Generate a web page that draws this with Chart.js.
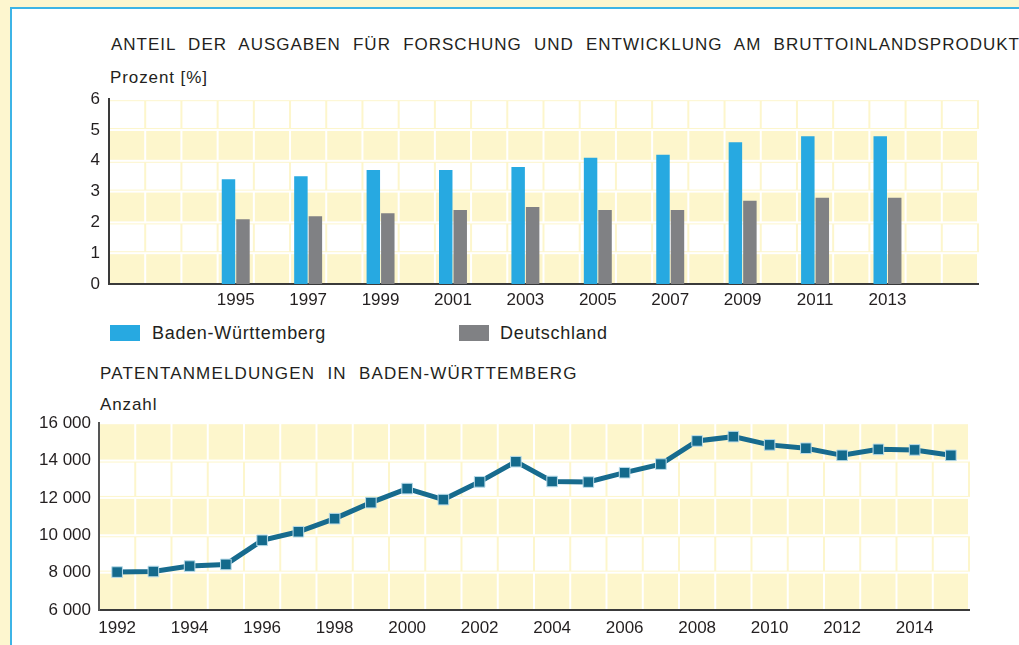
<!DOCTYPE html>
<html lang="de">
<head>
<meta charset="utf-8">
<title>Forschung und Entwicklung, Patentanmeldungen</title>
<script src="https://cdn.jsdelivr.net/npm/chart.js@4"></script>
<style>
  html, body { margin: 0; padding: 0; }
  body {
    width: 1019px; height: 645px; overflow: hidden; position: relative;
    background: #fdf6cf;
    font-family: "Liberation Sans", Arial, sans-serif;
    color: #231f20;
  }
  .panel {
    position: absolute; left: 10px; top: 7px; width: 1040px; height: 680px;
    background: #fff;
    border-left: 2px solid #3db4e6;
    border-top: 2px solid #3db4e6;
  }
  .txt { position: absolute; white-space: nowrap; font-size: 17px; line-height: 17px; letter-spacing: 0.9px; }
  .head { letter-spacing: 1px; word-spacing: 6.5px; }
  .head2 { letter-spacing: 1.15px; }
  .legend { font-size: 18px; line-height: 18px; letter-spacing: 0.7px; }
  .swatch { position: absolute; width: 30px; height: 16px; }
  canvas { position: absolute; left: 0; }
</style>
</head>
<body>
<div class="panel"></div>

<div class="txt head" style="left:111px; top:36px">ANTEIL DER AUSGABEN FÜR FORSCHUNG UND ENTWICKLUNG AM BRUTTOINLANDSPRODUKT</div>
<div class="txt" style="left:110px; top:69px">Prozent [%]</div>
<canvas id="rd-chart" width="1000" height="240" style="top:80px"></canvas>

<div class="swatch" style="left:110px; top:325px; background:#27a9e1"></div>
<div class="txt legend" style="left:152px; top:324px">Baden-Württemberg</div>
<div class="swatch" style="left:459px; top:325px; background:#808184"></div>
<div class="txt legend" style="left:500px; top:324px">Deutschland</div>

<div class="txt head head2" style="left:100px; top:365px">PATENTANMELDUNGEN IN BADEN-WÜRTTEMBERG</div>
<div class="txt" style="left:100px; top:396px">Anzahl</div>
<canvas id="patent-chart" width="1000" height="240" style="top:405px"></canvas>

<script>
// shared year axis, one column per year
const axisYears = [1992, 1993, 1994, 1995, 1996, 1997, 1998, 1999, 2000, 2001, 2002, 2003,
                   2004, 2005, 2006, 2007, 2008, 2009, 2010, 2011, 2012, 2013, 2014, 2015];

// R&D spending as share of GDP, %
const rdYears  = [1995, 1997, 1999, 2001, 2003, 2005, 2007, 2009, 2011, 2013];
const bwShare  = [3.4, 3.5, 3.7, 3.7, 3.8, 4.1, 4.2, 4.6, 4.8, 4.8];
const deShare  = [2.1, 2.2, 2.3, 2.4, 2.5, 2.4, 2.4, 2.7, 2.8, 2.8];

// patent applications in Baden-Württemberg, one per axis year
const patents = [8030, 8060, 8350, 8440, 9730, 10190, 10890, 11750, 12500, 11910, 12860, 13940,
                 12880, 12850, 13350, 13810, 15050, 15280, 14840, 14660, 14280, 14600, 14570, 14280];
const patentTicks = [1992, 1994, 1996, 1998, 2000, 2002, 2004, 2006, 2008, 2010, 2012, 2014];

const YELLOW = '#fdf6cc';
const INK = '#231f20';
const tickFont = {family: '"Liberation Sans", Arial, sans-serif', size: 17};

// checkered backdrop: yellow cells on even rows, white cells framed yellow on odd rows
const cellBackdrop = {
  id: 'cellBackdrop',
  beforeDraw(chart) {
    const {ctx, chartArea: a, scales: {x, y}} = chart;
    const cols = x.ticks.length;
    const colW = (a.right - a.left) / cols;
    const ticks = y.ticks.map(t => t.value);
    ctx.save();
    for (let j = 0; j < ticks.length - 1; j++) {
      const y0 = y.getPixelForValue(ticks[j + 1]);
      const y1 = y.getPixelForValue(ticks[j]);
      if (j % 2 === 0) {
        ctx.fillStyle = YELLOW;
        for (let i = 0; i < cols; i++) {
          const x0 = a.left + i * colW;
          ctx.fillRect(x0 + 1, y0 + 1, colW - 2, y1 - y0 - 2);
        }
      } else {
        ctx.fillStyle = YELLOW;
        ctx.fillRect(a.left - 1, y0 + 1, a.right - a.left + 2, y1 - y0 - 2);
        ctx.fillStyle = '#fff';
        for (let i = 0; i < cols; i++) {
          const x0 = a.left + i * colW;
          ctx.fillRect(x0 + 1, y0 + 2, colW - 2, y1 - y0 - 4);
        }
      }
    }
    ctx.restore();
  }
};

function fixedWidth(w) { return s => { s.width = w; }; }
function fixedHeight(h) { return s => { s.height = h; }; }

const thousands = v => {
  const s = String(v);
  return s.length > 3 ? s.slice(0, -3) + ' ' + s.slice(-3) : s;
};

// bars: values placed on their year within the full axis
const bwData = rdYears.map((yr, i) => ({x: String(yr), y: bwShare[i]}));
const deData = rdYears.map((yr, i) => ({x: String(yr), y: deShare[i]}));

new Chart(document.getElementById('rd-chart'), {
  type: 'bar',
  data: {
    labels: axisYears.map(String),
    datasets: [
      {label: 'Baden-Württemberg', data: bwData, backgroundColor: '#27a9e1',
       categoryPercentage: 0.8, barPercentage: 0.93},
      {label: 'Deutschland', data: deData, backgroundColor: '#808184',
       categoryPercentage: 0.8, barPercentage: 0.93},
    ]
  },
  options: {
    responsive: false,
    animation: false,
    layout: {padding: {left: 0, right: 22, top: 15, bottom: 0}},
    plugins: {legend: {display: false}, tooltip: {enabled: false}},
    scales: {
      x: {
        type: 'category',
        offset: true,
        grid: {display: false, drawTicks: false},
        border: {display: true, color: '#3a3a3a', width: 2},
        afterFit: fixedHeight(36),
        ticks: {
          autoSkip: false, maxRotation: 0, padding: 6, color: INK, font: tickFont,
          callback(v, i) { return rdYears.includes(axisYears[i]) ? String(axisYears[i]) : ''; }
        }
      },
      y: {
        min: 0, max: 6,
        grid: {display: false, drawTicks: false},
        border: {display: true, color: '#3a3a3a', width: 2},
        afterFit: fixedWidth(109),
        ticks: {stepSize: 1, padding: 9, color: INK, font: tickFont}
      }
    }
  },
  plugins: [cellBackdrop]
});

new Chart(document.getElementById('patent-chart'), {
  type: 'line',
  data: {
    labels: axisYears.map(String),
    datasets: [{
      label: 'Patentanmeldungen',
      data: patents,
      borderColor: '#176b8e',
      borderWidth: 5,
      tension: 0,
      pointStyle: 'rect',
      pointRadius: 7.5,
      pointBackgroundColor: '#146a8c',
      pointBorderColor: '#b9dcea',
      pointBorderWidth: 1
    }]
  },
  options: {
    responsive: false,
    animation: false,
    layout: {padding: {left: 0, right: 31, top: 18, bottom: 0}},
    plugins: {legend: {display: false}, tooltip: {enabled: false}},
    scales: {
      x: {
        type: 'category',
        offset: true,
        grid: {display: false, drawTicks: false},
        border: {display: true, color: '#3a3a3a', width: 2},
        afterFit: fixedHeight(35),
        ticks: {
          autoSkip: false, maxRotation: 0, padding: 8, color: INK, font: tickFont,
          callback(v, i) { return patentTicks.includes(axisYears[i]) ? String(axisYears[i]) : ''; }
        }
      },
      y: {
        min: 6000, max: 16000,
        grid: {display: false, drawTicks: false},
        border: {display: true, color: '#555', width: 2},
        afterFit: fixedWidth(99),
        ticks: {stepSize: 2000, padding: 8, color: INK, font: tickFont, callback: v => thousands(v)}
      }
    }
  },
  plugins: [cellBackdrop]
});
</script>
</body>
</html>
